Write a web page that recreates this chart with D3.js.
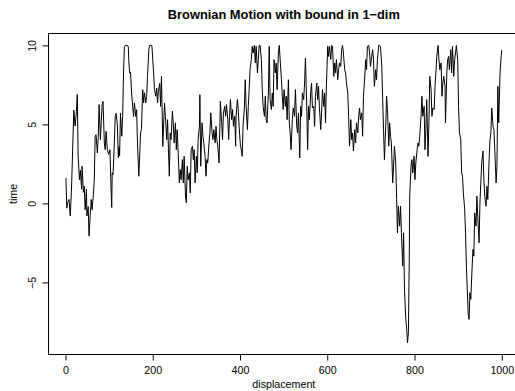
<!DOCTYPE html>
<html>
<head>
<meta charset="utf-8">
<script src="https://cdn.jsdelivr.net/npm/d3@7"></script>
<style>
  body { margin: 0; background: #fff; }
  svg { display: block; font-family: "Liberation Sans", Arial, Helvetica, sans-serif; }
</style>
</head>
<body>
<div id="chart"></div>
<script>
// [step, position]
const walk = [
  [1,1.6],[3,-0.3],[5,0.06],[8,0.25],[11,-0.8],[14,1.1],[17,4.0],[19,5.9],[22,4.9],[25,5.8],
  [27,6.9],[29,3.0],[32,1.5],[34,2.1],[37,0.9],[38,2.35],[41,0.7],[43,1.1],[45,-0.4],[48,0.9],
  [49,-0.8],[52,-0.2],[54,-2.07],[57,-0.6],[59,0.25],[61,-0.4],[64,0.56],[66,1.5],[68,4.25],[70,4.35],
  [73,3.2],[75,4.15],[77,6.25],[80,4.04],[82,5.2],[84,6.25],[86,6.46],[89,3.83],[91,3.4],[93,4.56],
  [96,3.4],[99,3.1],[102,3.4],[104,1.3],[106,-0.26],[107,1.93],[109,1.83],[112,3.85],[114,5.5],[116,5.7],
  [119,4.9],[121,2.9],[123,3.6],[124,3.0],[126,5.7],[129,4.25],[131,5.5],[133,8.25],[135,9.9],[137,10],
  [142,10],[144,9.9],[145,9.1],[147,8.25],[149,8.3],[152,6.78],[154,6.14],[156,5.5],[158,6.36],[161,5.5],
  [163,5.93],[165,3.83],[168,1.72],[170,3.0],[172,4.46],[174,4.67],[177,7.2],[179,6.36],[181,7.0],[184,6.36],
  [186,6.78],[188,8.04],[191,9.73],[193,10],[198,10],[200,9.1],[202,8.25],[204,7.2],[207,6.78],[209,7.3],
  [211,6.36],[213,7.1],[216,7.6],[218,6.14],[220,8.04],[223,3.6],[225,5.1],[227,6.36],[229,5.5],[232,4.04],
  [234,5.3],[236,3.4],[238,1.72],[240,4.46],[242,4.04],[245,5.83],[247,5.1],[249,3.83],[252,5.1],[254,3.4],
  [256,4.67],[258,3.4],[261,1.3],[263,2.14],[265,1.5],[268,2.77],[270,1.3],[272,2.98],[275,0.46],[277,0.04],
  [279,2.35],[281,1.5],[284,1.93],[286,0.67],[288,3.4],[291,3.62],[293,2.77],[295,3.4],[297,1.3],[300,2.98],
  [302,1.93],[304,4.04],[307,4.88],[308,6.88],[310,2.35],[313,5.1],[315,4.25],[317,3.83],[320,2.98],[322,1.72],
  [324,2.77],[326,2.56],[329,3.83],[331,4.46],[333,5.73],[336,4.46],[338,4.04],[340,4.67],[343,3.83],[345,4.88],
  [347,4.04],[349,3.62],[352,2.56],[354,5.1],[355,6.46],[358,5.1],[360,4.04],[362,5.73],[365,6.14],[367,5.51],
  [369,6.25],[372,5.3],[374,4.04],[376,5.51],[378,6.57],[381,5.3],[383,5.94],[385,4.88],[388,5.51],[390,3.62],
  [391,5.51],[394,6.57],[396,5.94],[398,4.88],[401,3.62],[403,3.4],[405,2.98],[407,4.88],[410,6.04],[412,7.83],
  [414,6.14],[417,4.67],[419,6.14],[421,7.2],[423,8.46],[426,9.1],[428,9.94],[430,9.52],[433,10],[435,8.89],
  [437,9.94],[440,8.25],[442,9.1],[444,10],[446,10],[449,9.1],[451,7.2],[453,6.14],[456,5.51],[458,6.78],
  [460,5.3],[462,5.1],[465,6.99],[467,9.94],[469,6.57],[472,5.94],[474,6.99],[476,6.14],[478,9.1],[481,8.25],
  [483,8.89],[485,7.2],[488,9.52],[490,10],[492,9.1],[495,7.83],[497,6.78],[499,5.94],[501,7.2],[504,6.14],
  [506,6.78],[508,5.3],[511,7.83],[513,5.1],[515,4.46],[517,3.4],[520,5.3],[522,6.04],[524,5.73],[525,5.51],
  [527,7.2],[530,4.88],[532,4.46],[534,5.73],[537,2.88],[539,6.14],[541,5.51],[543,6.99],[546,6.57],[548,7.62],
  [550,9.2],[553,6.14],[555,3.4],[557,6.14],[559,5.3],[562,6.99],[564,7.62],[566,6.04],[569,6.14],[571,4.88],
  [573,6.78],[576,7.62],[578,6.57],[580,7.41],[582,6.14],[585,4.67],[587,5.73],[589,7.2],[592,6.14],[594,6.99],
  [596,5.1],[598,7.41],[601,9.94],[603,9.3],[605,9.94],[608,9.1],[610,10],[612,9.94],[615,8.04],[617,8.89],
  [619,8.25],[621,9.1],[624,7.83],[626,8.46],[628,8.89],[631,8.67],[633,9.73],[635,10],[637,9.52],[640,8.46],
  [642,8.25],[644,7.62],[647,6.99],[649,5.51],[651,3.62],[654,5.3],[656,4.04],[658,4.46],[660,3.32],[663,4.67],
  [665,3.83],[667,5.1],[670,4.46],[672,5.51],[674,6.04],[676,5.3],[679,5.73],[681,4.25],[683,6.78],[686,8.04],
  [688,9.1],[690,8.46],[692,9.94],[695,10],[697,9.52],[699,8.67],[702,9.3],[704,9.73],[706,9.1],[708,7.41],
  [711,8.46],[713,7.83],[715,9.1],[718,10],[720,10],[722,9.94],[725,8.67],[727,6.57],[729,4.67],[731,2.77],
  [734,4.88],[736,6.78],[738,5.94],[741,3.62],[743,5.1],[745,4.25],[747,3.83],[750,1.3],[752,2.35],[754,3.62],
  [757,2.56],[759,0.25],[761,-1.86],[763,-0.18],[766,-1.44],[768,-0.18],[770,-1.86],[773,-3.97],[775,-1.86],[777,-5.44],
  [780,-7.34],[782,-7.97],[784,-8.81],[786,-8.18],[788,-3.5],[789,0.5],[790,1.09],[792,2.35],[794,2.77],[796,1.93],
  [799,2.98],[801,1.5],[803,2.56],[806,3.4],[808,3.83],[810,3.62],[812,4.25],[815,5.51],[817,6.78],[819,5.51],
  [822,6.14],[824,3.4],[826,4.67],[828,6.57],[831,2.98],[833,5.1],[835,8.04],[838,7.2],[840,5.51],[842,6.04],
  [845,5.94],[847,7.41],[849,8.25],[851,9.3],[854,10],[856,9.1],[858,8.46],[861,8.89],[863,6.78],[865,7.62],
  [867,8.04],[870,7.41],[871,5.1],[874,8.25],[876,9.1],[878,9.3],[880,8.46],[883,9.73],[885,8.25],[887,9.94],
  [890,8.04],[892,9.1],[894,9.52],[896,10],[899,9.1],[901,6.14],[903,4.46],[906,4.04],[908,1.93],[910,1.72],
  [912,0.67],[915,-0.4],[917,-1.86],[919,-4.07],[922,-6.18],[923,-7.0],[925,-7.34],[927,-5.65],[929,-6.07],[932,-4.07],
  [934,-2.91],[936,-3.34],[938,-0.6],[941,-1.44],[943,0.46],[945,-0.81],[948,-2.49],[950,0.04],[952,1.3],[954,2.56],
  [957,3.32],[959,1.5],[961,0.46],[964,-0.18],[966,1.09],[968,0.25],[971,2.77],[973,4.04],[975,4.46],[977,6.04],
  [980,4.88],[982,4.67],[984,3.4],[987,1.3],[989,2.35],[991,7.41],[993,5.1],[996,8.25],[998,9.1],[1000,9.7]
];

const xTicks = [0, 200, 400, 600, 800, 1000];
const yTicks = [-5, 0, 5, 10];
const title = 'Brownian Motion with bound in 1\u2212dim';
const xLabel = 'displacement';
const yLabel = 'time';

const width = 515;
const height = 391;
// plot region (R default margins); right edge runs past the window like the reference
const plotLeft = 48.5, plotRight = 519.2, plotTop = 33.5, plotBottom = 354.5;
const baseFont = 10.7;

// R style 4% padding around the data range
const pad = ([lo, hi]) => [lo - (hi - lo) * 0.04, hi + (hi - lo) * 0.04];

const x = d3.scaleLinear()
    .domain(pad(d3.extent(walk, d => d[0])))
    .range([plotLeft, plotRight]);

const y = d3.scaleLinear()
    .domain(pad(d3.extent(walk, d => d[1])))
    .range([plotBottom, plotTop]);

const svg = d3.select('#chart')
    .append('svg')
    .attr('width', width)
    .attr('height', height)
    .attr('viewBox', [0, 0, width, height]);

svg.append('path')
    .datum(walk)
    .attr('fill', 'none')
    .attr('stroke', '#000')
    .attr('stroke-width', 1)
    .attr('stroke-linejoin', 'round')
    .attr('d', d3.line().x(d => x(d[0])).y(d => y(d[1])));

// frame
svg.append('rect')
    .attr('x', plotLeft)
    .attr('y', plotTop)
    .attr('width', plotRight - plotLeft)
    .attr('height', plotBottom - plotTop)
    .attr('fill', 'none')
    .attr('stroke', '#000')
    .attr('stroke-width', 1);

const xAxis = svg.append('g')
    .attr('transform', `translate(0,${plotBottom})`)
    .call(d3.axisBottom(x).tickValues(xTicks).tickSize(6).tickPadding(5.5).tickFormat(d3.format('d')));

const yAxis = svg.append('g')
    .attr('transform', `translate(${plotLeft},0)`)
    .call(d3.axisLeft(y).tickValues(yTicks).tickSize(6).tickFormat(d3.format('d')));

[xAxis, yAxis].forEach(g => {
  g.select('.domain').remove();
  g.attr('font-family', null).attr('font-size', baseFont);
  g.selectAll('.tick line').attr('stroke', '#000');
  g.selectAll('.tick text').attr('fill', '#000');
});

// y tick labels run parallel to the axis, as R draws them
yAxis.selectAll('.tick text')
    .attr('x', null)
    .attr('dy', null)
    .attr('text-anchor', 'middle')
    .attr('transform', 'translate(-12.3,0) rotate(-90)');

svg.append('text')
    .attr('x', (plotLeft + plotRight) / 2)
    .attr('y', 19)
    .attr('text-anchor', 'middle')
    .attr('font-size', baseFont * 1.2)
    .attr('font-weight', 'bold')
    .text(title);

svg.append('text')
    .attr('x', (plotLeft + plotRight) / 2)
    .attr('y', 388)
    .attr('text-anchor', 'middle')
    .attr('font-size', baseFont)
    .text(xLabel);

svg.append('text')
    .attr('transform', `translate(16.5,${(plotTop + plotBottom) / 2}) rotate(-90)`)
    .attr('text-anchor', 'middle')
    .attr('font-size', baseFont)
    .text(yLabel);
</script>
</body>
</html>
